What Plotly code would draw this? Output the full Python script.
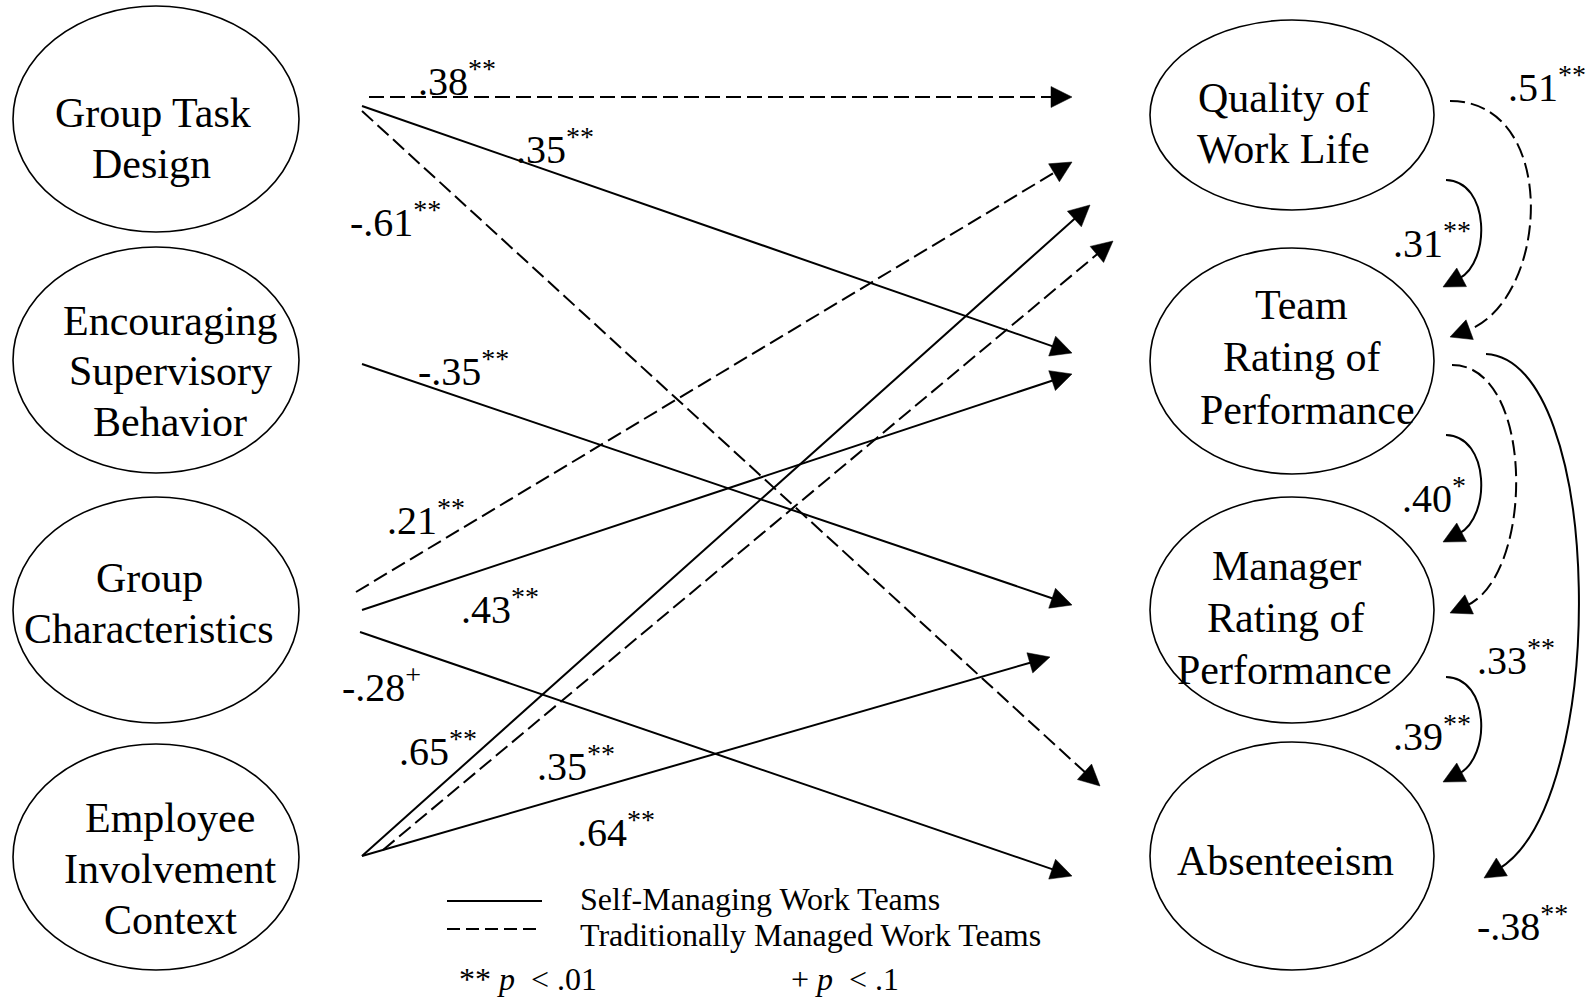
import math
import plotly.graph_objects as go

FONT = "Liberation Serif, Times New Roman, serif"

# ---------------- data ----------------
predictors = ["Group Task Design", "Encouraging Supervisory Behavior",
              "Group Characteristics", "Employee Involvement Context"]
predictor_lines = [["Group Task", "Design"],
                   ["Encouraging", "Supervisory", "Behavior"],
                   ["Group", "Characteristics"],
                   ["Employee", "Involvement", "Context"]]
outcomes = ["Quality of Work Life", "Team Rating of Performance",
            "Manager Rating of Performance", "Absenteeism"]
outcome_lines = [["Quality of", "Work Life"],
                 ["Team", "Rating of", "Performance"],
                 ["Manager", "Rating of", "Performance"],
                 ["Absenteeism"]]

# predictor -> outcome paths
path_source = ["Group Task Design", "Group Task Design", "Group Task Design",
               "Encouraging Supervisory Behavior",
               "Group Characteristics", "Group Characteristics", "Group Characteristics",
               "Employee Involvement Context", "Employee Involvement Context",
               "Employee Involvement Context"]
path_target = ["Quality of Work Life", "Team Rating of Performance", "Absenteeism",
               "Manager Rating of Performance",
               "Quality of Work Life", "Team Rating of Performance", "Absenteeism",
               "Quality of Work Life", "Quality of Work Life",
               "Manager Rating of Performance"]
path_team = ["Traditional", "Self-Managing", "Traditional",
             "Self-Managing",
             "Traditional", "Self-Managing", "Self-Managing",
             "Self-Managing", "Traditional", "Self-Managing"]
path_coef = [".38", ".35", "-.61", "-.35", ".21", ".43", "-.28", ".65", ".35", ".64"]
path_sig = ["**", "**", "**", "**", "**", "**", "+", "**", "**", "**"]

# outcome -> outcome paths
opath_source = ["Quality of Work Life", "Quality of Work Life",
                "Team Rating of Performance", "Team Rating of Performance",
                "Manager Rating of Performance", "Team Rating of Performance"]
opath_target = ["Team Rating of Performance", "Team Rating of Performance",
                "Manager Rating of Performance", "Manager Rating of Performance",
                "Absenteeism", "Absenteeism"]
opath_team = ["Self-Managing", "Traditional", "Self-Managing", "Traditional",
              "Self-Managing", "Self-Managing"]
opath_coef = [".31", ".51", ".40", ".33", ".39", "-.38"]
opath_sig = ["**", "**", "*", "**", "**", "**"]

legend_labels = ["Self-Managing Work Teams", "Traditionally Managed Work Teams"]
legend_teams = ["Self-Managing", "Traditional"]
note_labels = ["**\u00a0<i>p</i>\u00a0\u00a0<\u00a0.01", "+\u00a0<i>p</i>\u00a0\u00a0<\u00a0.1"]

# ---------------- layout geometry ----------------
W, H = 1590, 997
NODE_FONT = 42
LABEL_FONT = 40
LEGEND_FONT = 32
LW = 2
HEAD_L, HEAD_W = 21, 10.5
DASH = "15px,6px"

left_box = dict(cx=156, rx=143, ry=113)
left_cy = [119, 360, 610, 857]
left_text_x = [[153, 151], [170, 170, 170], [149, 149], [170, 170, 170]]
left_text_y = [[113, 164], [321, 371, 422], [578, 629], [818, 869, 920]]

right_box = dict(cx=1292, rx=142)
right_cy = [115, 361, 610, 856]
right_ry = [95, 113, 113, 114]
right_text_x = [[1283, 1283], [1301, 1301, 1307], [1286, 1285, 1284], [1285]]
right_text_y = [[98, 149], [305, 357, 410], [566, 618, 670], [861]]

path_start = [(369, 97), (362, 106), (362, 111), (362, 364), (356, 592),
              (362, 610), (360, 632), (362, 856), (383, 850), (362, 856)]
path_tip = [(1072, 97), (1072, 353), (1100, 786), (1072, 605), (1072, 162),
            (1072, 374), (1072, 876), (1090, 205), (1113, 241), (1050, 657)]
path_label_xy = [(416, 78), (514, 146), (348, 219), (416, 368), (385, 517),
                 (459, 606), (340, 684), (397, 748), (535, 763), (575, 829)]

# cubic curves: start, ctrl1, ctrl2, tip
opath_geom = [
    ((1446, 180), (1490, 181), (1491, 262), (1443, 287)),
    ((1450, 101), (1560, 101), (1550, 300), (1450, 337)),
    ((1446, 435), (1490, 436), (1491, 517), (1443, 542)),
    ((1452, 365), (1535, 365), (1535, 575), (1450, 613)),
    ((1446, 677), (1490, 678), (1491, 757), (1443, 782)),
    ((1486, 354), (1605, 360), (1610, 800), (1484, 878)),
]
opath_label_xy = [(1391, 240), (1506, 84), (1400, 495), (1475, 657), (1391, 733), (1475, 923)]

legend_line_x = (447, 542)
legend_line_y = [901, 929]
legend_text_xy = [(578, 899), (578, 935)]
note_xy = [(457, 979), (789, 979)]

# ---------------- build ----------------
shapes = []
annotations = []


def dash_of(team):
    return "solid" if team == "Self-Managing" else DASH


def head(tip, ux, uy):
    bx, by = tip[0] - HEAD_L * ux, tip[1] - HEAD_L * uy
    px, py = -uy, ux
    p1 = (bx + HEAD_W * px, by + HEAD_W * py)
    p2 = (bx - HEAD_W * px, by - HEAD_W * py)
    shapes.append(dict(type="path", xref="x", yref="y",
                       path=f"M {tip[0]},{tip[1]} L {p1[0]:.2f},{p1[1]:.2f} L {p2[0]:.2f},{p2[1]:.2f} Z",
                       fillcolor="black", line=dict(color="black", width=0.5)))
    return bx, by


def text(x, y, s, size, xanchor="center"):
    annotations.append(dict(x=x, y=y, xref="x", yref="y", text=s, showarrow=False,
                            xanchor=xanchor, yanchor="middle",
                            font=dict(family=FONT, size=size, color="black")))


# nodes
for i, name in enumerate(predictors):
    cy = left_cy[i]
    shapes.append(dict(type="circle", xref="x", yref="y",
                       x0=left_box["cx"] - left_box["rx"], x1=left_box["cx"] + left_box["rx"],
                       y0=cy - left_box["ry"], y1=cy + left_box["ry"],
                       line=dict(color="black", width=1.6)))
    for j, ln in enumerate(predictor_lines[i]):
        text(left_text_x[i][j], left_text_y[i][j], ln, NODE_FONT)

for i, name in enumerate(outcomes):
    cy, ry = right_cy[i], right_ry[i]
    shapes.append(dict(type="circle", xref="x", yref="y",
                       x0=right_box["cx"] - right_box["rx"], x1=right_box["cx"] + right_box["rx"],
                       y0=cy - ry, y1=cy + ry,
                       line=dict(color="black", width=1.6)))
    for j, ln in enumerate(outcome_lines[i]):
        text(right_text_x[i][j], right_text_y[i][j], ln, NODE_FONT)

# straight paths
for k in range(len(path_coef)):
    s, t = path_start[k], path_tip[k]
    dx, dy = t[0] - s[0], t[1] - s[1]
    d = math.hypot(dx, dy)
    ux, uy = dx / d, dy / d
    bx, by = head(t, ux, uy)
    shapes.insert(0, dict(type="line", xref="x", yref="y", x0=s[0], y0=s[1],
                          x1=bx + 3 * ux, y1=by + 3 * uy,
                          line=dict(color="black", width=LW, dash=dash_of(path_team[k]))))
    lx, ly = path_label_xy[k]
    text(lx, ly, f"{path_coef[k]}<sup>{path_sig[k]}</sup>", LABEL_FONT, "left")

# curved paths
for k in range(len(opath_coef)):
    p0, p1, p2, t = opath_geom[k]
    dx, dy = t[0] - p2[0], t[1] - p2[1]
    d = math.hypot(dx, dy)
    ux, uy = dx / d, dy / d
    bx, by = head(t, ux, uy)
    ex, ey = bx + 3 * ux, by + 3 * uy
    shapes.insert(0, dict(type="path", xref="x", yref="y",
                          path=f"M {p0[0]},{p0[1]} C {p1[0]},{p1[1]} {p2[0]},{p2[1]} {ex:.2f},{ey:.2f}",
                          line=dict(color="black", width=LW, dash=dash_of(opath_team[k]))))
    lx, ly = opath_label_xy[k]
    text(lx, ly, f"{opath_coef[k]}<sup>{opath_sig[k]}</sup>", LABEL_FONT, "left")

# legend
for i, lab in enumerate(legend_labels):
    shapes.append(dict(type="line", xref="x", yref="y",
                       x0=legend_line_x[0], x1=legend_line_x[1],
                       y0=legend_line_y[i], y1=legend_line_y[i],
                       line=dict(color="black", width=LW,
                                 dash="solid" if legend_teams[i] == "Self-Managing" else "13px,6px")))
    text(legend_text_xy[i][0], legend_text_xy[i][1], lab, LEGEND_FONT, "left")
for i, lab in enumerate(note_labels):
    text(note_xy[i][0], note_xy[i][1], lab, LEGEND_FONT, "left")

fig = go.Figure()
fig.add_trace(go.Scatter(x=[0, W], y=[0, H], mode="markers",
                         marker=dict(opacity=0), hoverinfo="skip", showlegend=False))
fig.update_layout(
    width=W, height=H, margin=dict(l=0, r=0, t=0, b=0),
    paper_bgcolor="white", plot_bgcolor="white",
    xaxis=dict(range=[0, W], visible=False, fixedrange=True),
    yaxis=dict(range=[H, 0], visible=False, fixedrange=True),
    shapes=shapes, annotations=annotations, showlegend=False,
)
fig.write_html("out.html", config={"displayModeBar": False})
